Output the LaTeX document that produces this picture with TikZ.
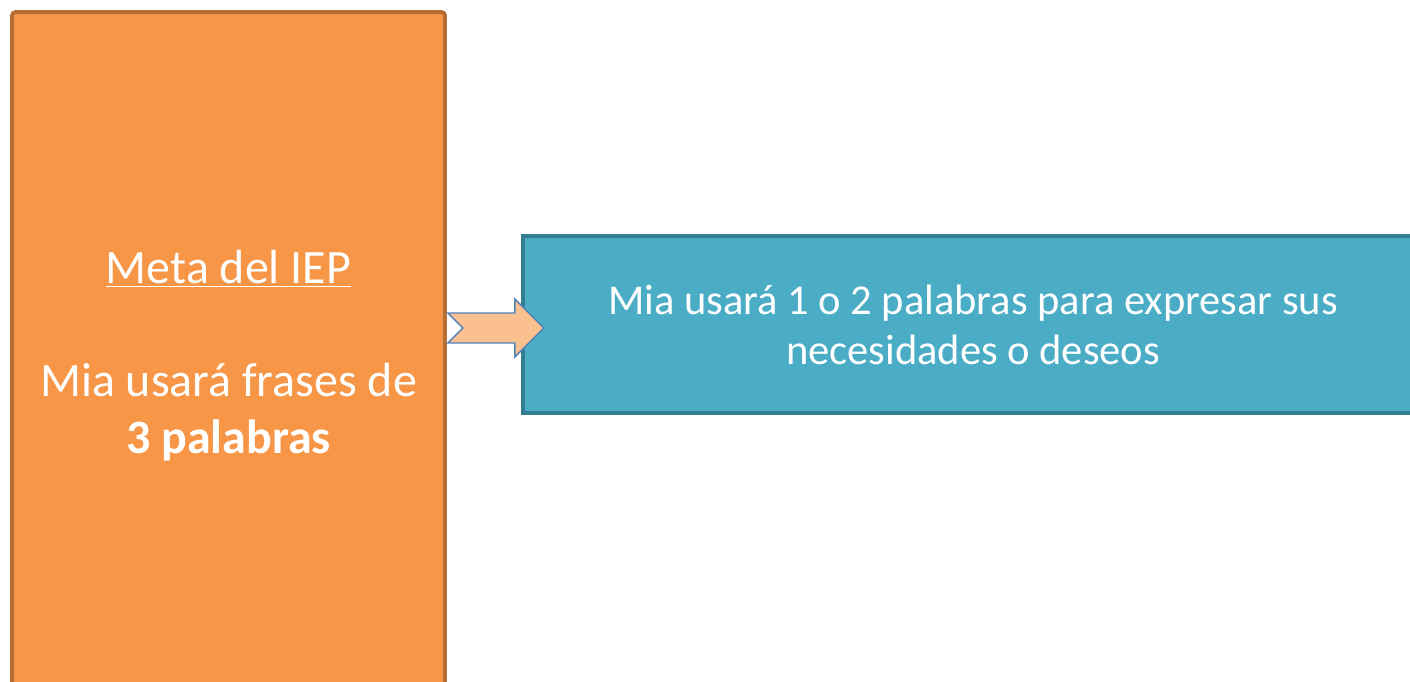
\documentclass[tikz,border=0pt]{standalone}
\usepackage{fontspec}
\setmainfont{Carlito}
\usetikzlibrary{positioning}
\definecolor{goalfill}{HTML}{F79646}
\definecolor{goalline}{HTML}{B66D31}
\definecolor{stepfill}{HTML}{4BACC6}
\definecolor{stepline}{HTML}{357D91}
\definecolor{notchfill}{HTML}{FAC090}
\definecolor{notchline}{HTML}{4F81BD}

\begin{document}
\begin{tikzpicture}[x=0.02cm,y=-0.02cm,
    goalbox/.style={draw=goalline,fill=goalfill,line width=2.2pt,rounded corners=2pt,
        minimum width=8.66cm,minimum height=13.76cm,text=white,align=center,
        font=\fontsize{27.3}{32.4}\selectfont},
    stepbox/.style={draw=stepline,fill=stepfill,line width=2.2pt,
        minimum width=18cm,minimum height=3.54cm,text=white,align=center,
        font=\fontsize{24.2}{28.5}\selectfont},
    notch/.style={draw=notchline,fill=notchfill,line width=0.8pt,line join=miter}]
\useasboundingbox (0,0) rectangle (1410,682);

\node[goalbox] (goal) at (228.5,356) {\underline{Meta del IEP}\\[32pt]
    Mia usará frases de\\\textbf{3 palabras}};
\node[stepbox] (target) at (973,324.5) {Mia usará 1 o 2 palabras para expresar sus\\
    necesidades o deseos};

% arrow from goal to target
\draw[notch] (goal.east |- target.west) ++(1,-11.5) -- ++(67,0) -- ++(0,-14)
    -- ++(29,29) -- ++(-29,29) -- ++(0,-14) -- ++(-67,0) -- ++(15,-15) -- cycle;
\end{tikzpicture}
\end{document}
